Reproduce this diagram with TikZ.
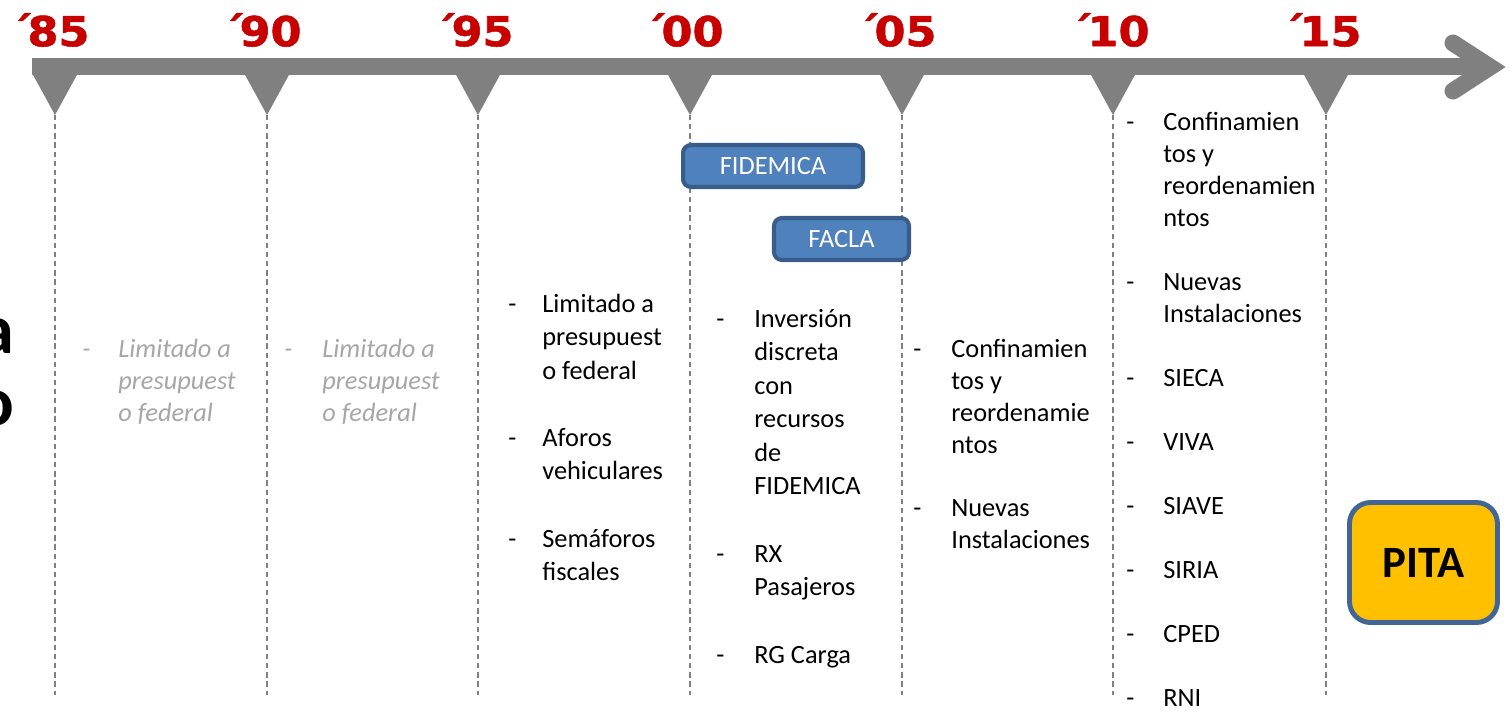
\documentclass[tikz,border=0pt]{standalone}
\usepackage{fontspec}
\setmainfont{Carlito}
\newfontfamily\yearfont{DejaVu Sans Bold}[FakeBold=1.2]
\usepackage{xcolor}
\usepackage{tikz}

\definecolor{yearred}{RGB}{200,0,0}
\definecolor{axisgray}{RGB}{128,128,128}
\definecolor{fadetext}{RGB}{166,166,166}
\definecolor{boxblue}{RGB}{79,129,189}
\definecolor{boxedge}{RGB}{56,93,138}
\definecolor{pitagold}{RGB}{255,192,0}
\definecolor{pitaedge}{RGB}{65,101,150}

\newcommand{\itemlines}[1]{\begin{tabular}[t]{@{}l@{}}#1\end{tabular}}
\newcommand{\yr}[1]{\scalebox{1.08}[1]{´\kern-0.12em#1}}

\begin{document}
\begin{tikzpicture}[x=0.02cm, y=-0.02cm,
    year/.style={text=yearred, inner sep=0, font=\yearfont\fontsize{23.5}{28}\selectfont},
    axis/.style={draw=axisgray, line width=0.34cm},
    guide/.style={draw=axisgray, line width=0.8pt, dash pattern=on 3pt off 2.2pt},
    item/.style={anchor=base west, inner sep=0, font=\fontsize{15}{18.3}\selectfont},
    loose/.style={item, font=\fontsize{15}{19.1}\selectfont},
    faded/.style={item, text=fadetext, font=\itshape\fontsize{15}{18.3}\selectfont},
    fund/.style={draw=boxedge, fill=boxblue, text=white, line width=2.3pt, rounded corners=4.5pt,
                 minimum height=0.84cm, inner sep=0, font=\fontsize{15}{18}\selectfont},
    pita/.style={draw=pitaedge, fill=pitagold, line width=2.8pt, rounded corners=12pt,
                 minimum width=2.96cm, minimum height=2.4cm, font=\bfseries\fontsize{25.5}{30}\selectfont},
    cut/.style={anchor=base east, inner sep=0, font=\bfseries\fontsize{40}{44}\selectfont}]

    \useasboundingbox (0,0) rectangle (1509,710);

    % years
    \node[year] (y85) at (  50,30) {\yr{85}};
    \node[year] (y90) at ( 262,30) {\yr{90}};
    \node[year] (y95) at ( 474,30) {\yr{95}};
    \node[year] (y00) at ( 684,30) {\yr{00}};
    \node[year] (y05) at ( 897,30) {\yr{05}};
    \node[year] (y10) at (1110,30) {\yr{10}};
    \node[year] (y15) at (1322,30) {\yr{15}};

    % axis
    \coordinate (a0) at (32,66.5);
    \coordinate (a1) at (1485,66.5);
    \coordinate (h1) at (1453,43);
    \coordinate (tip) at (1490,67);
    \coordinate (h2) at (1453,91);
    \draw[axis] (a0) -- (a1);
    \draw[axis, line cap=round, line join=miter] (h1) -- (tip) -- (h2);

    \coordinate (k85) at (  55,115); \coordinate (e85) at (  55,695);
    \coordinate (k90) at ( 267,115); \coordinate (e90) at ( 267,695);
    \coordinate (k95) at ( 478,115); \coordinate (e95) at ( 478,695);
    \coordinate (k00) at ( 690,115); \coordinate (e00) at ( 690,695);
    \coordinate (k05) at ( 902,115); \coordinate (e05) at ( 902,695);
    \coordinate (k10) at (1113,115); \coordinate (e10) at (1113,695);
    \coordinate (k15) at (1326,115); \coordinate (e15) at (1326,695);

    \fill[axisgray] (k85) -- ++(-23,-42) -- ++(46,0) -- cycle;
    \fill[axisgray] (k90) -- ++(-23,-42) -- ++(46,0) -- cycle;
    \fill[axisgray] (k95) -- ++(-23,-42) -- ++(46,0) -- cycle;
    \fill[axisgray] (k00) -- ++(-23,-42) -- ++(46,0) -- cycle;
    \fill[axisgray] (k05) -- ++(-23,-42) -- ++(46,0) -- cycle;
    \fill[axisgray] (k10) -- ++(-23,-42) -- ++(46,0) -- cycle;
    \fill[axisgray] (k15) -- ++(-23,-42) -- ++(46,0) -- cycle;

    \draw[guide] (k85) -- (e85)  (k90) -- (e90)  (k95) -- (e95)
                 (k00) -- (e00)  (k05) -- (e05)  (k10) -- (e10)
                 (k15) -- (e15);

    % cut-off title letters
    \node[cut] (ta) at (15,353) {a};
    \node[cut] (to) at (15,425) {o};

    % '85 and '90
    \node[faded] (d85) at (82,357) {-};
    \node[faded] (l85) at (118,357) {\itemlines{Limitado a\\presupuest\\o federal}};
    \node[faded] (d90) at (284,357) {-};
    \node[faded] (l90) at (322,357) {\itemlines{Limitado a\\presupuest\\o federal}};

    % '95
    \node[loose] (d95a) at (508,312) {-};
    \node[loose] (l95a) at (542,312) {\itemlines{Limitado a\\presupuest\\o federal}};
    \node[loose] (d95b) at (508,446) {-};
    \node[loose] (l95b) at (542,446) {\itemlines{Aforos\\vehiculares}};
    \node[loose] (d95c) at (508,547) {-};
    \node[loose] (l95c) at (542,547) {\itemlines{Semáforos\\fiscales}};

    % '00
    \node[fund, minimum width=3.6cm] (fidemica) at (773,166) {FIDEMICA};
    \node[fund, minimum width=2.7cm] (facla) at (841.5,239) {FACLA};
    \node[loose] (d00a) at (716,327) {-};
    \node[loose] (l00a) at (754,327) {\itemlines{Inversión\\discreta\\con\\recursos\\de\\FIDEMICA}};
    \node[loose] (d00b) at (716,562) {-};
    \node[loose] (l00b) at (754,562) {\itemlines{RX\\Pasajeros}};
    \node[loose] (d00c) at (716,663) {-};
    \node[loose] (l00c) at (754,663) {RG Carga};

    % '05
    \node[item] (d05a) at (913,357) {-};
    \node[item] (l05a) at (951,357) {\itemlines{Confinamien\\tos y\\reordenamie\\ntos}};
    \node[item] (d05b) at (913,516) {-};
    \node[item] (l05b) at (951,516) {\itemlines{Nuevas\\Instalaciones}};

    % '10
    \node[item] (d10a) at (1126,130) {-};
    \node[item] (l10a) at (1163,130) {\itemlines{Confinamien\\tos y\\reordenamien\\ntos}};
    \node[item] (d10b) at (1126,290) {-};
    \node[item] (l10b) at (1163,290) {\itemlines{Nuevas\\Instalaciones}};
    \node[item] (d10c) at (1126,386) {-};
    \node[item] (l10c) at (1163,386) {SIECA};
    \node[item] (d10d) at (1126,450) {-};
    \node[item] (l10d) at (1163,450) {VIVA};
    \node[item] (d10e) at (1126,514) {-};
    \node[item] (l10e) at (1163,514) {SIAVE};
    \node[item] (d10f) at (1126,578) {-};
    \node[item] (l10f) at (1163,578) {SIRIA};
    \node[item] (d10g) at (1126,642) {-};
    \node[item] (l10g) at (1163,642) {CPED};
    \node[item] (d10h) at (1126,706) {-};
    \node[item] (l10h) at (1163,706) {RNI};

    % '15
    \node[pita] (pita) at (1423.5,562.5) {PITA};
\end{tikzpicture}
\end{document}
